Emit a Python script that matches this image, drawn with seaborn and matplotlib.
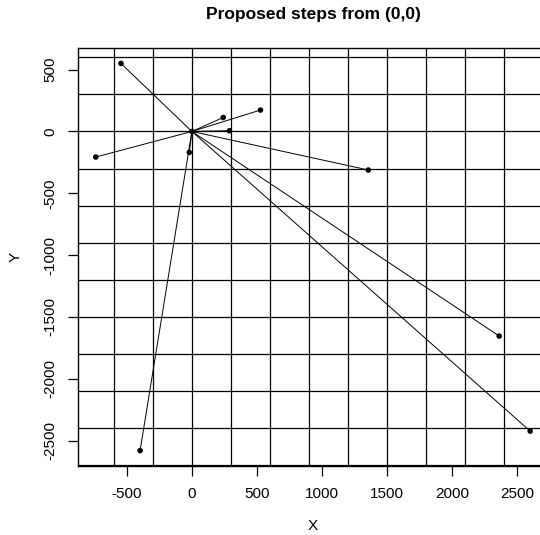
import matplotlib
matplotlib.use("Agg")
import matplotlib.pyplot as plt
import seaborn as sns
import numpy as np
import pandas as pd

# Endpoints of proposed steps from the origin
end_x = [-545, -739, 241, 527, 289, 1356, -20, 2362, 2600, -398]
end_y = [550, -207, 113, 173, 6, -312, -170, -1655, -2424, -2581]
origin = (0, 0)

x_ticks = [-500, 0, 500, 1000, 1500, 2000, 2500]
y_ticks = [500, 0, -500, -1000, -1500, -2000, -2500]
grid_v = list(range(-600, 2701, 300))
grid_h = list(range(-2700, 601, 300))

rows = []
for i, (x, y) in enumerate(zip(end_x, end_y)):
    rows.append({"seg": i, "x": origin[0], "y": origin[1]})
    rows.append({"seg": i, "x": x, "y": y})
seg_df = pd.DataFrame(rows)
pts_df = pd.DataFrame({"x": [origin[0]] + end_x, "y": [origin[1]] + end_y})

sns.set_style("white")
plt.rcParams["font.family"] = ["Liberation Sans", "DejaVu Sans"]
plt.rcParams["text.color"] = "black"
plt.rcParams["axes.labelcolor"] = "black"
plt.rcParams["xtick.color"] = "black"
plt.rcParams["ytick.color"] = "black"

W, H = 540, 535
fig = plt.figure(figsize=(W / 100, H / 100), dpi=100)
left, right, top, bottom = 78.3, 547.6, 48, 466
ax = fig.add_axes([left / W, 1 - bottom / H, (right - left) / W, (bottom - top) / H])

for v in grid_v:
    ax.axvline(v, color="black", lw=0.9, zorder=1)
for h in grid_h:
    ax.axhline(h, color="black", lw=0.9, zorder=1)

sns.lineplot(data=seg_df, x="x", y="y", units="seg", estimator=None, sort=False,
             color="black", lw=0.7, ax=ax, zorder=2)
sns.scatterplot(data=pts_df, x="x", y="y", color="black", s=16, edgecolor="none",
                ax=ax, zorder=3)

ax.set_xlim(-873, 2734)
ax.set_ylim(-2706, 675)
ax.set_xticks(x_ticks)
ax.set_yticks(y_ticks)
ax.set_xticklabels([str(t) for t in x_ticks])
ax.set_yticklabels([str(t) for t in y_ticks], rotation=90, va="center")
ax.tick_params(axis="both", direction="out", length=7, width=0.9, colors="black",
               labelcolor="black", labelsize=11, pad=8, left=True, bottom=True)
ax.set_xlabel("")
ax.set_ylabel("")
for s in ax.spines.values():
    s.set_color("black")
    s.set_linewidth(1.0)

fig.text((left + right) / 2 / W, 1 - 14 / H, "Proposed steps from (0,0)",
         ha="center", va="center", fontsize=12.5, fontweight="bold", color="black")
fig.text((left + right) / 2 / W, 1 - 526 / H, "X", ha="center", va="center",
         fontsize=11, color="black")
fig.text(16 / W, 1 - (top + bottom) / 2 / H, "Y", ha="center", va="center",
         fontsize=11, rotation=90, color="black")

fig.savefig("out.png", dpi=100)
